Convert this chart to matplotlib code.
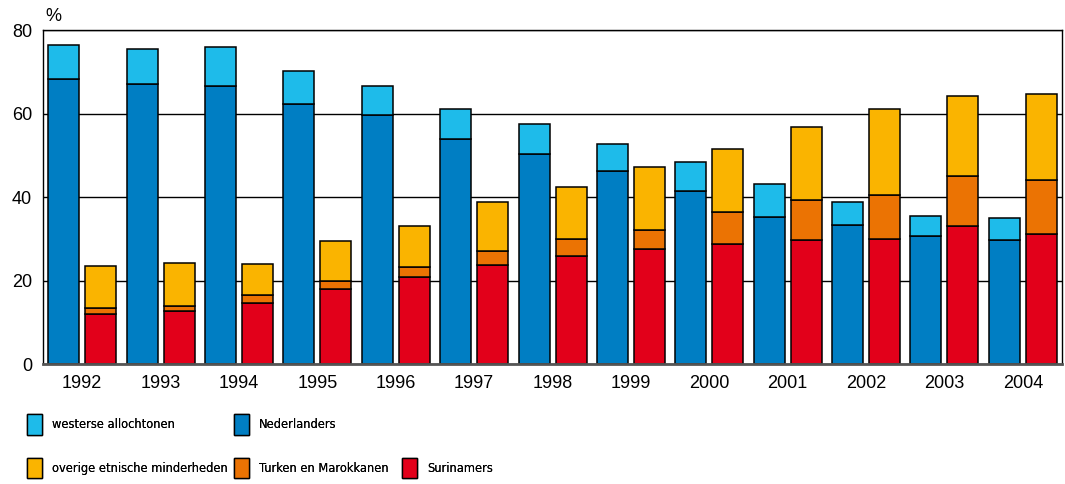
import numpy as np
import matplotlib
matplotlib.use("Agg")
import matplotlib.pyplot as plt
from matplotlib.patches import Rectangle
from matplotlib import font_manager

years = ['1992', '1993', '1994', '1995', '1996', '1997', '1998',
         '1999', '2000', '2001', '2002', '2003', '2004']

# left bar (stacked)
nederlanders = [68.2, 67.0, 66.5, 62.3, 59.7, 53.8, 50.2, 46.3, 41.5, 35.3, 33.4, 30.6, 29.8]
westerse = [8.2, 8.4, 9.4, 8.0, 7.0, 7.4, 7.4, 6.5, 6.8, 7.9, 5.5, 4.9, 5.2]

# right bar (stacked)
surinamers = [12.0, 12.8, 14.7, 18.0, 20.9, 23.8, 25.9, 27.6, 28.8, 29.8, 30.0, 33.1, 31.2]
turken = [1.4, 1.2, 1.9, 2.0, 2.4, 3.3, 4.1, 4.4, 7.6, 9.6, 10.6, 11.9, 13.0]
overige = [10.1, 10.2, 7.4, 9.5, 9.8, 11.6, 12.4, 15.2, 15.1, 17.4, 20.6, 19.2, 20.6]

c_light = '#1EBBEA'
c_dark = '#007EC3'
c_red = '#E2001A'
c_orange = '#EB7303'
c_yellow = '#FAB400'

plt.rcParams['font.family'] = ['Liberation Sans', 'DejaVu Sans']

# condensed face for the legend (falls back to a smaller normal face)
leg_file = None
for f in font_manager.fontManager.ttflist:
    if f.fname.endswith('DejaVuSansCondensed.ttf'):
        leg_file = f.fname
        break
if leg_file:
    fs = 9.2
    leg_prop = font_manager.FontProperties(fname=leg_file, size=fs)
else:
    fs = 7.8
    leg_prop = font_manager.FontProperties(family='DejaVu Sans', size=fs)

fig = plt.figure(figsize=(10.65, 4.84), dpi=100)
ax = fig.add_axes([0.0404, 0.2479, 0.9568, 0.690])

x = np.arange(len(years))
w = 0.395
off = 0.236
ek = dict(edgecolor='black', linewidth=1.1, zorder=3)

ax.bar(x - off, nederlanders, w, color=c_dark, **ek)
ax.bar(x - off, westerse, w, bottom=nederlanders, color=c_light, **ek)

b2 = np.array(surinamers) + np.array(turken)
ax.bar(x + off, surinamers, w, color=c_red, **ek)
ax.bar(x + off, turken, w, bottom=surinamers, color=c_orange, **ek)
ax.bar(x + off, overige, w, bottom=b2, color=c_yellow, **ek)

ax.set_xlim(-0.5, 12.5)
ax.set_ylim(0, 80)
ax.set_yticks([0, 20, 40, 60, 80])
ax.set_xticks(x)
ax.set_xticklabels(years)
ax.tick_params(axis='both', length=0, labelsize=13)
ax.tick_params(axis='y', pad=8)
ax.tick_params(axis='x', pad=8)
ax.yaxis.grid(True, color='black', linewidth=1.0, zorder=0)
ax.set_axisbelow(True)
for s in ['left', 'top', 'right']:
    ax.spines[s].set_linewidth(1.0)
ax.spines['bottom'].set_color('#555555')
ax.spines['bottom'].set_linewidth(2)
ax.spines['bottom'].set_zorder(4)

ax.text(0.002, 1.015, '%', transform=ax.transAxes, ha='left', va='bottom', fontsize=13)

def sq(c):
    return Rectangle((0, 0), 1, 1, facecolor=c, edgecolor='black', linewidth=1.0)

empty = Rectangle((0, 0), 1, 1, visible=False)
columns = [
    ([sq(c_light), sq(c_yellow)], ['westerse allochtonen', 'overige etnische minderheden'], 27),
    ([sq(c_dark), sq(c_orange)], ['Nederlanders', 'Turken en Marokkanen'], 234),
    ([empty, sq(c_red)], ['', 'Surinamers'], 402),
]
hh = (15.1 / fs - 0.245) / 0.65
lsp = (36.0 - fs * hh) / fs
for hs, ls, px in columns:
    leg = fig.legend(hs, ls, ncol=1, loc='upper left', bbox_to_anchor=(px / 1065, 1 - 414 / 484),
                     frameon=False, borderpad=0, borderaxespad=0, prop=leg_prop,
                     handlelength=10.8 / fs, handleheight=hh, handletextpad=7.2 / fs,
                     labelspacing=lsp)
    fig.add_artist(leg)

fig.savefig('out.png', dpi=100)
